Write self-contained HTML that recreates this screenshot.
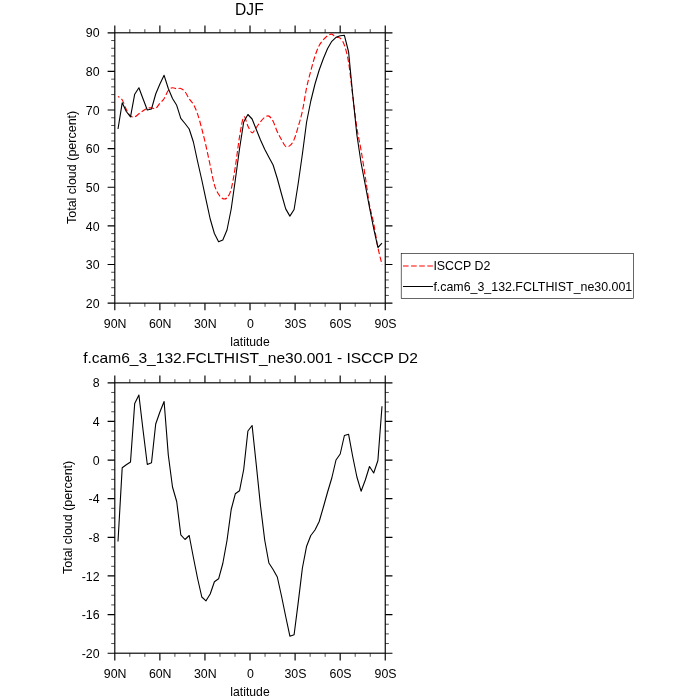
<!DOCTYPE html><html><head><meta charset="utf-8"><title>DJF</title><style>html,body{margin:0;padding:0;background:#fff}svg{display:block;will-change:transform}text{font-family:"Liberation Sans",sans-serif;fill:#000}</style></head><body>
<svg width="700" height="700" viewBox="0 0 700 700">
<rect width="700" height="700" fill="#fff"/>
<g stroke="#000" stroke-width="1.15" fill="none" stroke-linecap="butt">
<rect x="114.8" y="32.8" width="270.45" height="270.35"/>
<path d="M114.80 32.8 v-7.2 M114.80 303.15 v7.2"/>
<path d="M129.82 32.8 v-3.6 M129.82 303.15 v3.6" stroke-width="0.7"/>
<path d="M144.85 32.8 v-3.6 M144.85 303.15 v3.6" stroke-width="0.7"/>
<path d="M159.88 32.8 v-7.2 M159.88 303.15 v7.2"/>
<path d="M174.90 32.8 v-3.6 M174.90 303.15 v3.6" stroke-width="0.7"/>
<path d="M189.93 32.8 v-3.6 M189.93 303.15 v3.6" stroke-width="0.7"/>
<path d="M204.95 32.8 v-7.2 M204.95 303.15 v7.2"/>
<path d="M219.97 32.8 v-3.6 M219.97 303.15 v3.6" stroke-width="0.7"/>
<path d="M235.00 32.8 v-3.6 M235.00 303.15 v3.6" stroke-width="0.7"/>
<path d="M250.02 32.8 v-7.2 M250.02 303.15 v7.2"/>
<path d="M265.05 32.8 v-3.6 M265.05 303.15 v3.6" stroke-width="0.7"/>
<path d="M280.07 32.8 v-3.6 M280.07 303.15 v3.6" stroke-width="0.7"/>
<path d="M295.10 32.8 v-7.2 M295.10 303.15 v7.2"/>
<path d="M310.12 32.8 v-3.6 M310.12 303.15 v3.6" stroke-width="0.7"/>
<path d="M325.15 32.8 v-3.6 M325.15 303.15 v3.6" stroke-width="0.7"/>
<path d="M340.18 32.8 v-7.2 M340.18 303.15 v7.2"/>
<path d="M355.20 32.8 v-3.6 M355.20 303.15 v3.6" stroke-width="0.7"/>
<path d="M370.23 32.8 v-3.6 M370.23 303.15 v3.6" stroke-width="0.7"/>
<path d="M385.25 32.8 v-7.2 M385.25 303.15 v7.2"/>
<path d="M114.8 303.15 h-7.2 M385.25 303.15 h7.2"/>
<path d="M114.8 264.53 h-7.2 M385.25 264.53 h7.2"/>
<path d="M114.8 225.91 h-7.2 M385.25 225.91 h7.2"/>
<path d="M114.8 187.29 h-7.2 M385.25 187.29 h7.2"/>
<path d="M114.8 148.66 h-7.2 M385.25 148.66 h7.2"/>
<path d="M114.8 110.04 h-7.2 M385.25 110.04 h7.2"/>
<path d="M114.8 71.42 h-7.2 M385.25 71.42 h7.2"/>
<path d="M114.8 32.80 h-7.2 M385.25 32.80 h7.2"/>
<path d="M114.8 295.43 h-3.6 M385.25 295.43 h3.6" stroke-width="0.7"/>
<path d="M114.8 287.70 h-3.6 M385.25 287.70 h3.6" stroke-width="0.7"/>
<path d="M114.8 279.98 h-3.6 M385.25 279.98 h3.6" stroke-width="0.7"/>
<path d="M114.8 272.25 h-3.6 M385.25 272.25 h3.6" stroke-width="0.7"/>
<path d="M114.8 256.80 h-3.6 M385.25 256.80 h3.6" stroke-width="0.7"/>
<path d="M114.8 249.08 h-3.6 M385.25 249.08 h3.6" stroke-width="0.7"/>
<path d="M114.8 241.36 h-3.6 M385.25 241.36 h3.6" stroke-width="0.7"/>
<path d="M114.8 233.63 h-3.6 M385.25 233.63 h3.6" stroke-width="0.7"/>
<path d="M114.8 218.18 h-3.6 M385.25 218.18 h3.6" stroke-width="0.7"/>
<path d="M114.8 210.46 h-3.6 M385.25 210.46 h3.6" stroke-width="0.7"/>
<path d="M114.8 202.73 h-3.6 M385.25 202.73 h3.6" stroke-width="0.7"/>
<path d="M114.8 195.01 h-3.6 M385.25 195.01 h3.6" stroke-width="0.7"/>
<path d="M114.8 179.56 h-3.6 M385.25 179.56 h3.6" stroke-width="0.7"/>
<path d="M114.8 171.84 h-3.6 M385.25 171.84 h3.6" stroke-width="0.7"/>
<path d="M114.8 164.11 h-3.6 M385.25 164.11 h3.6" stroke-width="0.7"/>
<path d="M114.8 156.39 h-3.6 M385.25 156.39 h3.6" stroke-width="0.7"/>
<path d="M114.8 140.94 h-3.6 M385.25 140.94 h3.6" stroke-width="0.7"/>
<path d="M114.8 133.22 h-3.6 M385.25 133.22 h3.6" stroke-width="0.7"/>
<path d="M114.8 125.49 h-3.6 M385.25 125.49 h3.6" stroke-width="0.7"/>
<path d="M114.8 117.77 h-3.6 M385.25 117.77 h3.6" stroke-width="0.7"/>
<path d="M114.8 102.32 h-3.6 M385.25 102.32 h3.6" stroke-width="0.7"/>
<path d="M114.8 94.59 h-3.6 M385.25 94.59 h3.6" stroke-width="0.7"/>
<path d="M114.8 86.87 h-3.6 M385.25 86.87 h3.6" stroke-width="0.7"/>
<path d="M114.8 79.15 h-3.6 M385.25 79.15 h3.6" stroke-width="0.7"/>
<path d="M114.8 63.70 h-3.6 M385.25 63.70 h3.6" stroke-width="0.7"/>
<path d="M114.8 55.97 h-3.6 M385.25 55.97 h3.6" stroke-width="0.7"/>
<path d="M114.8 48.25 h-3.6 M385.25 48.25 h3.6" stroke-width="0.7"/>
<path d="M114.8 40.52 h-3.6 M385.25 40.52 h3.6" stroke-width="0.7"/>
</g>
<text x="99.6" y="307.75" font-size="12.35" text-anchor="end">20</text>
<text x="99.6" y="269.13" font-size="12.35" text-anchor="end">30</text>
<text x="99.6" y="230.51" font-size="12.35" text-anchor="end">40</text>
<text x="99.6" y="191.89" font-size="12.35" text-anchor="end">50</text>
<text x="99.6" y="153.26" font-size="12.35" text-anchor="end">60</text>
<text x="99.6" y="114.64" font-size="12.35" text-anchor="end">70</text>
<text x="99.6" y="76.02" font-size="12.35" text-anchor="end">80</text>
<text x="99.6" y="37.40" font-size="12.35" text-anchor="end">90</text>
<text x="115.15" y="328.15" font-size="12.35" text-anchor="middle">90N</text>
<text x="160.22" y="328.15" font-size="12.35" text-anchor="middle">60N</text>
<text x="205.30" y="328.15" font-size="12.35" text-anchor="middle">30N</text>
<text x="250.37" y="328.15" font-size="12.35" text-anchor="middle">0</text>
<text x="295.45" y="328.15" font-size="12.35" text-anchor="middle">30S</text>
<text x="340.53" y="328.15" font-size="12.35" text-anchor="middle">60S</text>
<text x="385.60" y="328.15" font-size="12.35" text-anchor="middle">90S</text>
<text x="250.03" y="346.35" font-size="12.2" text-anchor="middle">latitude</text>
<g stroke="#000" stroke-width="1.15" fill="none" stroke-linecap="butt">
<rect x="114.8" y="382.8" width="270.45" height="270.40"/>
<path d="M114.80 382.8 v-7.2 M114.80 653.2 v7.2"/>
<path d="M129.82 382.8 v-3.6 M129.82 653.2 v3.6" stroke-width="0.7"/>
<path d="M144.85 382.8 v-3.6 M144.85 653.2 v3.6" stroke-width="0.7"/>
<path d="M159.88 382.8 v-7.2 M159.88 653.2 v7.2"/>
<path d="M174.90 382.8 v-3.6 M174.90 653.2 v3.6" stroke-width="0.7"/>
<path d="M189.93 382.8 v-3.6 M189.93 653.2 v3.6" stroke-width="0.7"/>
<path d="M204.95 382.8 v-7.2 M204.95 653.2 v7.2"/>
<path d="M219.97 382.8 v-3.6 M219.97 653.2 v3.6" stroke-width="0.7"/>
<path d="M235.00 382.8 v-3.6 M235.00 653.2 v3.6" stroke-width="0.7"/>
<path d="M250.02 382.8 v-7.2 M250.02 653.2 v7.2"/>
<path d="M265.05 382.8 v-3.6 M265.05 653.2 v3.6" stroke-width="0.7"/>
<path d="M280.07 382.8 v-3.6 M280.07 653.2 v3.6" stroke-width="0.7"/>
<path d="M295.10 382.8 v-7.2 M295.10 653.2 v7.2"/>
<path d="M310.12 382.8 v-3.6 M310.12 653.2 v3.6" stroke-width="0.7"/>
<path d="M325.15 382.8 v-3.6 M325.15 653.2 v3.6" stroke-width="0.7"/>
<path d="M340.18 382.8 v-7.2 M340.18 653.2 v7.2"/>
<path d="M355.20 382.8 v-3.6 M355.20 653.2 v3.6" stroke-width="0.7"/>
<path d="M370.23 382.8 v-3.6 M370.23 653.2 v3.6" stroke-width="0.7"/>
<path d="M385.25 382.8 v-7.2 M385.25 653.2 v7.2"/>
<path d="M114.8 653.20 h-7.2 M385.25 653.20 h7.2"/>
<path d="M114.8 614.57 h-7.2 M385.25 614.57 h7.2"/>
<path d="M114.8 575.94 h-7.2 M385.25 575.94 h7.2"/>
<path d="M114.8 537.31 h-7.2 M385.25 537.31 h7.2"/>
<path d="M114.8 498.69 h-7.2 M385.25 498.69 h7.2"/>
<path d="M114.8 460.06 h-7.2 M385.25 460.06 h7.2"/>
<path d="M114.8 421.43 h-7.2 M385.25 421.43 h7.2"/>
<path d="M114.8 382.80 h-7.2 M385.25 382.80 h7.2"/>
<path d="M114.8 643.54 h-3.6 M385.25 643.54 h3.6" stroke-width="0.7"/>
<path d="M114.8 633.89 h-3.6 M385.25 633.89 h3.6" stroke-width="0.7"/>
<path d="M114.8 624.23 h-3.6 M385.25 624.23 h3.6" stroke-width="0.7"/>
<path d="M114.8 604.91 h-3.6 M385.25 604.91 h3.6" stroke-width="0.7"/>
<path d="M114.8 595.26 h-3.6 M385.25 595.26 h3.6" stroke-width="0.7"/>
<path d="M114.8 585.60 h-3.6 M385.25 585.60 h3.6" stroke-width="0.7"/>
<path d="M114.8 566.29 h-3.6 M385.25 566.29 h3.6" stroke-width="0.7"/>
<path d="M114.8 556.63 h-3.6 M385.25 556.63 h3.6" stroke-width="0.7"/>
<path d="M114.8 546.97 h-3.6 M385.25 546.97 h3.6" stroke-width="0.7"/>
<path d="M114.8 527.66 h-3.6 M385.25 527.66 h3.6" stroke-width="0.7"/>
<path d="M114.8 518.00 h-3.6 M385.25 518.00 h3.6" stroke-width="0.7"/>
<path d="M114.8 508.34 h-3.6 M385.25 508.34 h3.6" stroke-width="0.7"/>
<path d="M114.8 489.03 h-3.6 M385.25 489.03 h3.6" stroke-width="0.7"/>
<path d="M114.8 479.37 h-3.6 M385.25 479.37 h3.6" stroke-width="0.7"/>
<path d="M114.8 469.71 h-3.6 M385.25 469.71 h3.6" stroke-width="0.7"/>
<path d="M114.8 450.40 h-3.6 M385.25 450.40 h3.6" stroke-width="0.7"/>
<path d="M114.8 440.74 h-3.6 M385.25 440.74 h3.6" stroke-width="0.7"/>
<path d="M114.8 431.09 h-3.6 M385.25 431.09 h3.6" stroke-width="0.7"/>
<path d="M114.8 411.77 h-3.6 M385.25 411.77 h3.6" stroke-width="0.7"/>
<path d="M114.8 402.11 h-3.6 M385.25 402.11 h3.6" stroke-width="0.7"/>
<path d="M114.8 392.46 h-3.6 M385.25 392.46 h3.6" stroke-width="0.7"/>
</g>
<text x="99.6" y="657.80" font-size="12.35" text-anchor="end">-20</text>
<text x="99.6" y="619.17" font-size="12.35" text-anchor="end">-16</text>
<text x="99.6" y="580.54" font-size="12.35" text-anchor="end">-12</text>
<text x="99.6" y="541.91" font-size="12.35" text-anchor="end">-8</text>
<text x="99.6" y="503.29" font-size="12.35" text-anchor="end">-4</text>
<text x="99.6" y="464.66" font-size="12.35" text-anchor="end">0</text>
<text x="99.6" y="426.03" font-size="12.35" text-anchor="end">4</text>
<text x="99.6" y="387.40" font-size="12.35" text-anchor="end">8</text>
<text x="115.15" y="678.20" font-size="12.35" text-anchor="middle">90N</text>
<text x="160.22" y="678.20" font-size="12.35" text-anchor="middle">60N</text>
<text x="205.30" y="678.20" font-size="12.35" text-anchor="middle">30N</text>
<text x="250.37" y="678.20" font-size="12.35" text-anchor="middle">0</text>
<text x="295.45" y="678.20" font-size="12.35" text-anchor="middle">30S</text>
<text x="340.53" y="678.20" font-size="12.35" text-anchor="middle">60S</text>
<text x="385.60" y="678.20" font-size="12.35" text-anchor="middle">90S</text>
<text x="250.03" y="696.40" font-size="12.2" text-anchor="middle">latitude</text>
<text transform="translate(76.2,167.38) rotate(-90)" font-size="12.5" text-anchor="middle">Total cloud (percent)</text>
<text transform="translate(72.0,517.40) rotate(-90)" font-size="12.5" text-anchor="middle">Total cloud (percent)</text>
<text x="249.4" y="14.6" font-size="15.6" text-anchor="middle">DJF</text>
<text x="250.5" y="363.4" font-size="15.55" text-anchor="middle">f.cam6_3_132.FCLTHIST_ne30.001 - ISCCP D2</text>
<path d="M118.01 96.43C118.70 96.98 120.78 97.55 122.17 99.74C123.56 101.94 124.95 106.89 126.35 109.60C127.74 112.32 129.14 114.82 130.54 116.02C131.93 117.23 133.33 117.19 134.73 116.82C136.12 116.45 137.52 114.82 138.92 113.82C140.32 112.82 141.71 111.75 143.11 110.82C144.51 109.89 145.91 108.70 147.30 108.22C148.70 107.74 150.10 107.91 151.49 107.94C152.89 107.98 154.29 109.21 155.69 108.42C157.08 107.63 158.48 104.84 159.88 103.22C161.28 101.60 162.67 100.83 164.07 98.72C165.47 96.60 166.87 92.35 168.26 90.52C169.66 88.69 171.06 88.02 172.46 87.72C173.85 87.43 175.25 88.61 176.65 88.73C178.05 88.84 179.45 87.91 180.84 88.41C182.24 88.91 183.64 89.99 185.04 91.73C186.43 93.47 187.83 96.73 189.23 98.83C190.63 100.92 192.02 101.75 193.42 104.30C194.82 106.85 196.22 110.05 197.61 114.13C199.01 118.21 200.41 123.49 201.81 128.80C203.20 134.11 204.60 139.89 206.00 146.00C207.40 152.11 208.79 158.96 210.19 165.43C211.59 171.90 212.99 180.00 214.39 184.81C215.78 189.63 217.18 192.01 218.58 194.31C219.98 196.61 221.37 198.04 222.77 198.63C224.17 199.22 225.57 199.40 226.96 197.83C228.36 196.26 229.76 194.45 231.16 189.23C232.55 184.01 233.95 175.26 235.35 166.51C236.75 157.75 238.15 144.96 239.54 136.71C240.94 128.45 242.34 118.76 243.74 117.00C245.13 115.24 246.53 123.48 247.93 126.12C249.33 128.76 250.72 132.59 252.12 132.82C253.52 133.05 254.92 129.37 256.31 127.52C257.71 125.68 259.11 123.45 260.51 121.75C261.90 120.05 263.30 118.26 264.70 117.33C266.10 116.39 267.50 115.48 268.89 116.13C270.29 116.78 271.69 118.63 273.09 121.23C274.48 123.83 275.88 128.66 277.28 131.73C278.68 134.80 280.07 137.20 281.47 139.63C282.87 142.07 284.27 145.33 285.66 146.33C287.06 147.34 288.46 146.78 289.86 145.66C291.26 144.54 292.65 142.81 294.05 139.62C295.45 136.42 296.85 131.29 298.24 126.49C299.64 121.70 301.04 117.32 302.44 110.83C303.83 104.34 305.23 94.22 306.63 87.55C308.03 80.88 309.42 76.08 310.82 70.83C312.22 65.57 313.62 60.26 315.01 56.03C316.41 51.79 317.81 48.14 319.21 45.43C320.60 42.71 322.00 41.34 323.40 39.73C324.80 38.11 326.20 36.66 327.59 35.73C328.99 34.79 330.39 33.86 331.79 34.12C333.18 34.39 334.58 36.66 335.98 37.32C337.38 37.99 338.77 36.82 340.17 38.12C341.57 39.42 342.97 41.09 344.36 45.12C345.76 49.15 347.16 53.83 348.56 62.30C349.95 70.77 351.35 84.94 352.75 95.92C354.14 106.91 355.54 119.12 356.94 128.22C358.34 137.33 359.73 142.41 361.13 150.55C362.53 158.68 363.93 167.96 365.32 177.02C366.72 186.09 368.12 197.19 369.51 204.92C370.91 212.66 372.31 216.36 373.70 223.42C375.10 230.49 376.49 240.44 377.88 247.32C379.27 254.21 381.35 261.84 382.04 264.74" fill="none" stroke="#ff0000" stroke-width="1.12" stroke-dasharray="5.6 2.5" stroke-dashoffset="3.8"/>
<polyline points="118.0,129.0 122.2,102.8 126.3,111.5 130.5,116.8 134.7,94.2 138.9,87.8 143.1,99.0 147.3,110.0 151.5,109.0 155.7,94.0 159.9,84.0 164.1,75.3 168.3,88.5 172.5,98.5 176.7,105.3 180.8,118.3 185.0,123.5 189.2,129.0 193.4,142.0 197.6,161.5 201.8,180.0 206.0,199.7 210.2,219.0 214.4,233.5 218.6,241.8 222.8,240.0 227.0,230.0 231.2,209.0 235.3,180.0 239.5,149.0 243.7,122.0 247.9,114.5 252.1,119.0 256.3,129.5 260.5,140.0 264.7,149.3 268.9,157.3 273.1,165.0 277.3,178.5 281.5,194.0 285.7,208.9 289.9,216.1 294.1,209.5 298.2,183.5 302.4,154.0 306.6,122.0 310.8,101.0 315.0,84.0 319.2,70.0 323.4,58.5 327.6,48.5 331.8,41.3 336.0,37.3 340.2,35.7 344.4,35.3 348.6,52.0 352.7,94.5 356.9,135.0 361.1,163.0 365.3,185.0 369.5,207.5 373.7,228.6 377.9,247.5 382.0,243.2" fill="none" stroke="#000" stroke-width="1.1" stroke-linejoin="round"/>
<polyline points="118.0,541.5 122.2,467.7 126.3,464.8 130.5,462.0 134.7,403.5 138.9,395.0 143.1,430.5 147.3,464.5 151.5,462.7 155.7,424.0 159.9,412.0 164.1,401.5 168.3,455.0 172.5,487.0 176.7,501.5 180.8,534.8 185.0,539.5 189.2,535.5 193.4,557.5 197.6,578.5 201.8,597.0 206.0,600.8 210.2,594.0 214.4,581.8 218.6,578.8 222.8,563.5 227.0,540.5 231.2,509.5 235.3,493.8 239.5,490.8 243.7,469.5 247.9,431.0 252.1,425.5 256.3,465.0 260.5,505.7 264.7,540.0 268.9,563.0 273.1,569.5 277.3,577.0 281.5,596.0 285.7,616.5 289.9,636.2 294.1,634.8 298.2,602.6 302.4,568.0 306.6,546.2 310.8,535.5 315.0,530.0 319.2,521.5 323.4,507.0 327.6,492.0 331.8,478.0 336.0,460.0 340.2,454.0 344.4,435.5 348.6,434.3 352.7,456.5 356.9,477.0 361.1,491.2 365.3,480.0 369.5,466.5 373.7,473.0 377.9,460.5 382.0,406.2" fill="none" stroke="#000" stroke-width="1.1" stroke-linejoin="round"/>
<rect x="401.2" y="253.4" width="232.1" height="45.0" fill="#fff" stroke="#000" stroke-width="0.6"/>
<path d="M403 266.0 H433" stroke="#ff0000" stroke-width="1.12" stroke-dasharray="5.6 2.5" fill="none"/>
<path d="M403 286.5 H433" stroke="#000" stroke-width="1.0" fill="none"/>
<text x="433.4" y="270.1" font-size="12.4">ISCCP D2</text>
<text x="433.4" y="290.5" font-size="12.4">f.cam6_3_132.FCLTHIST_ne30.001</text>
</svg></body></html>
